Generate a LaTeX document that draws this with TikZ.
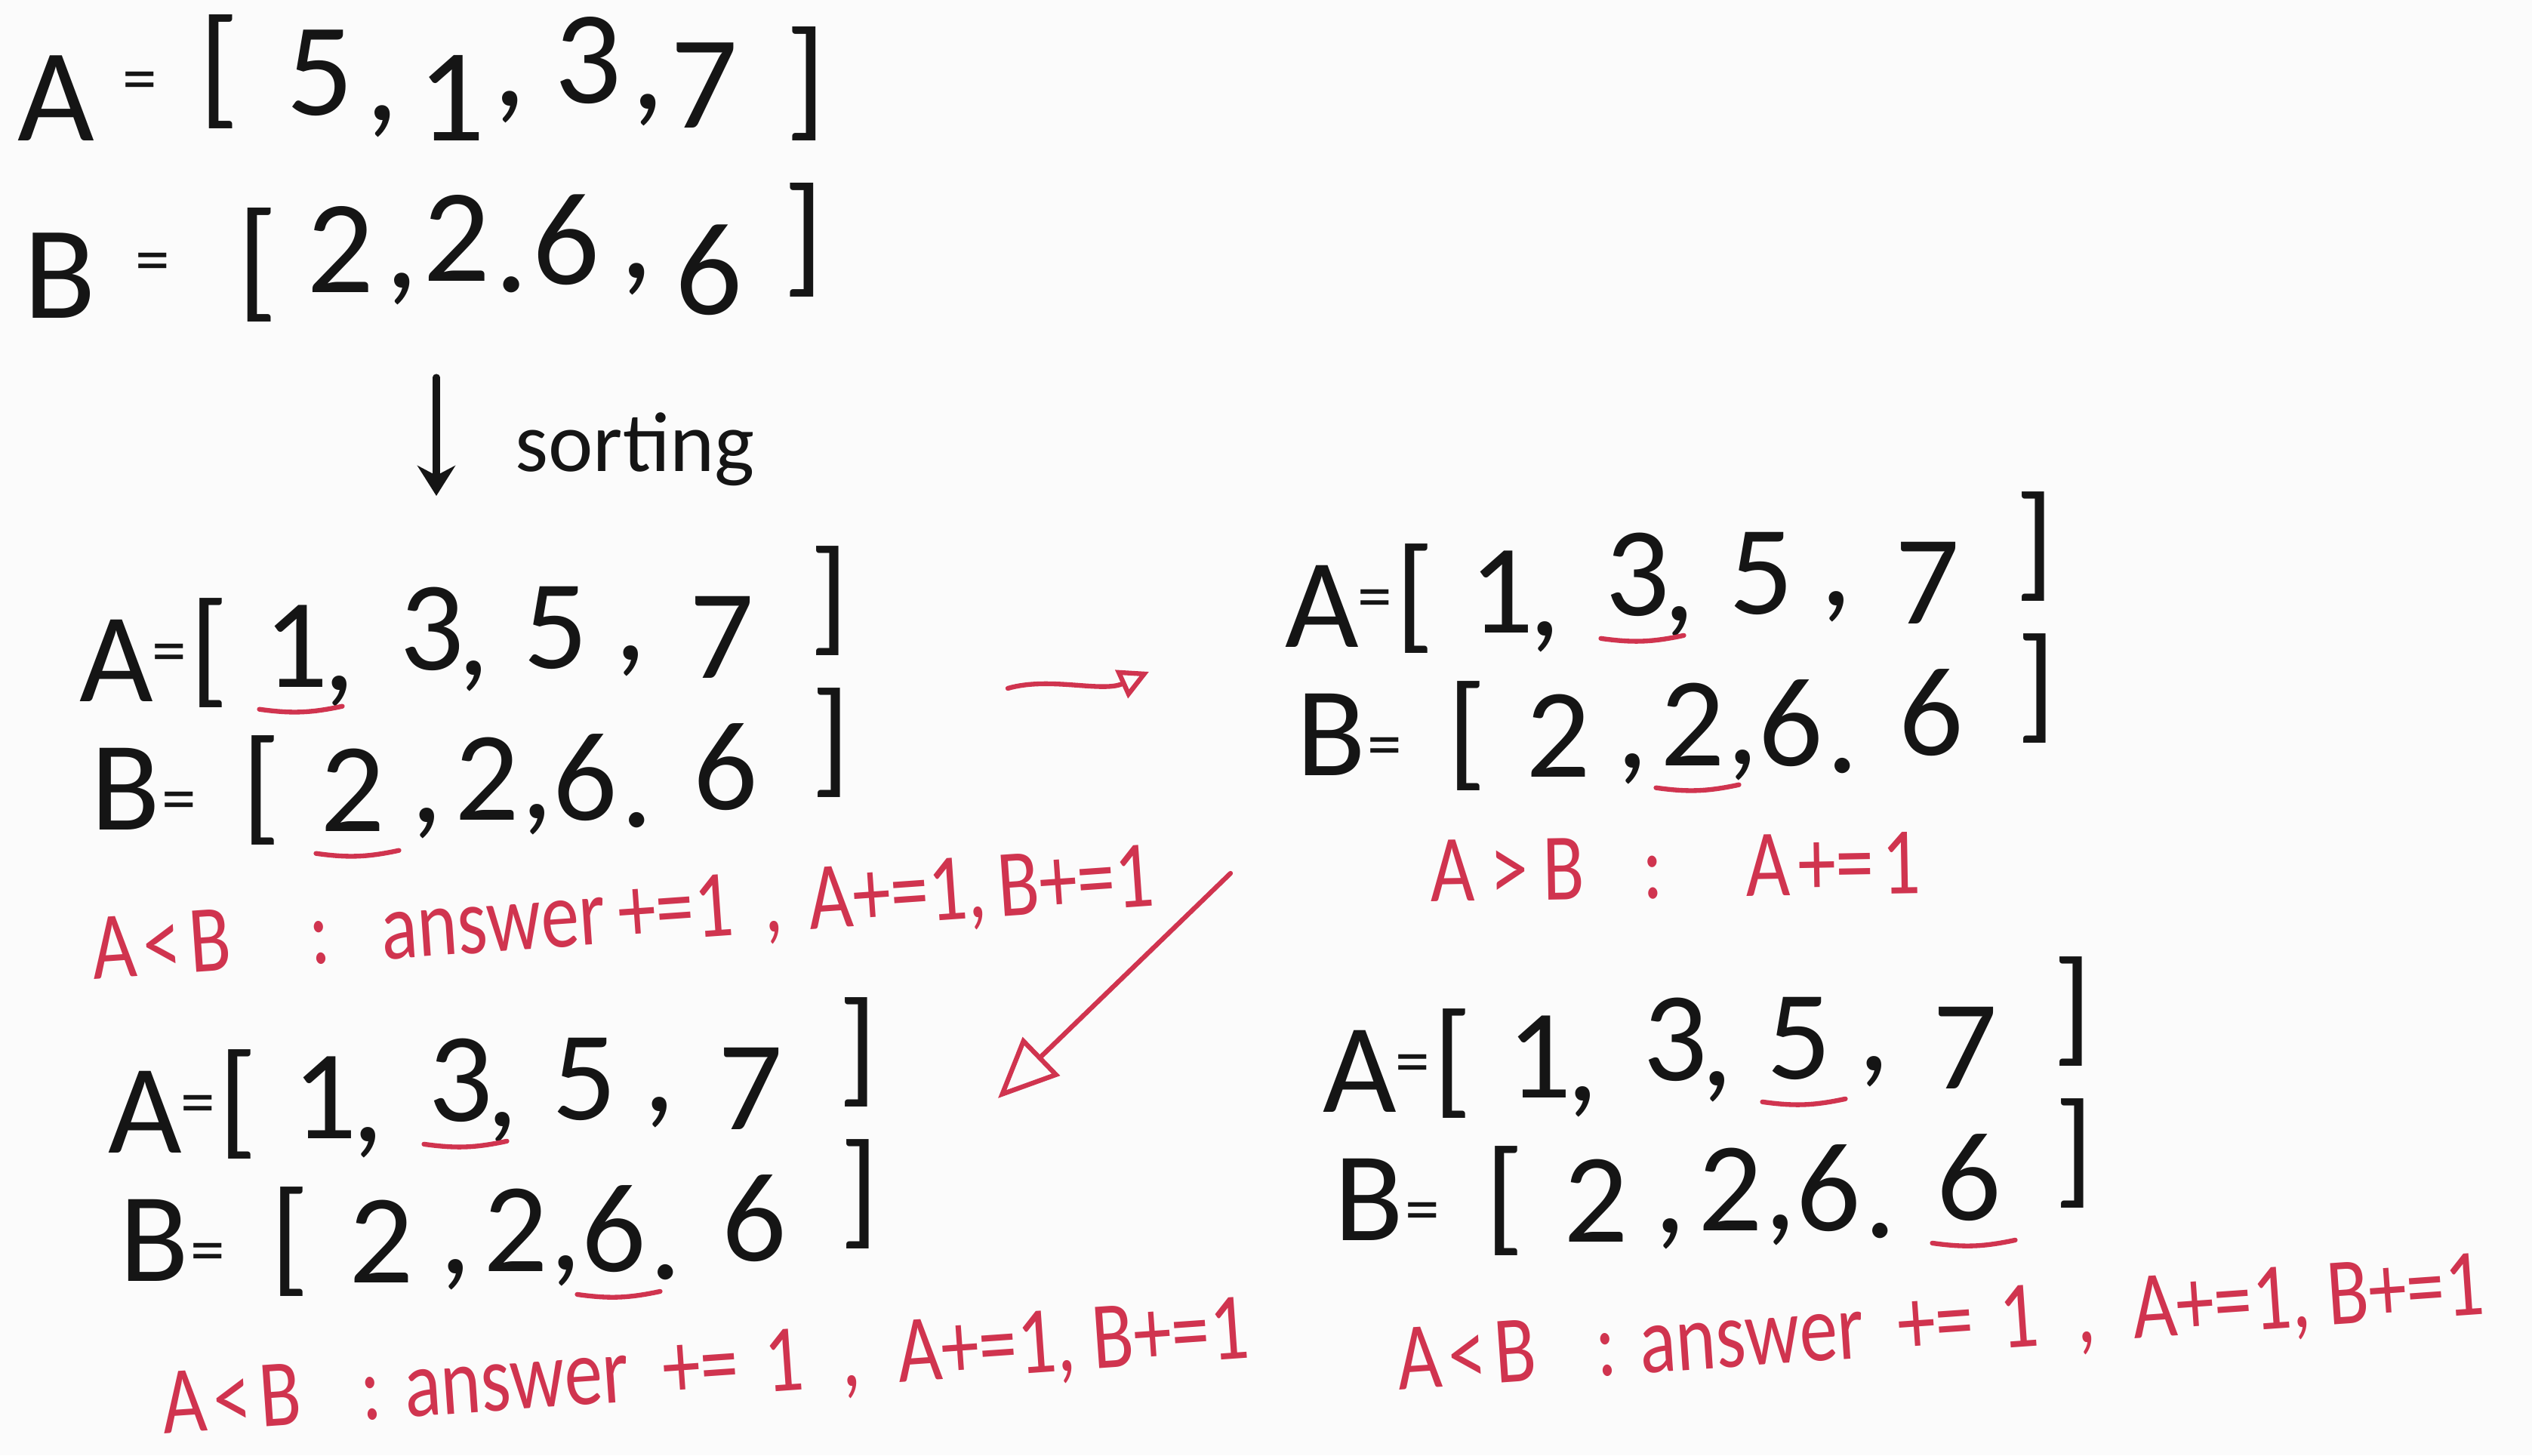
\documentclass[tikz,border=0pt]{standalone}
\usepackage{fontspec}
\setmainfont{Carlito}
\usetikzlibrary{arrows.meta, calc}

\definecolor{inkblack}{HTML}{151515}
\definecolor{inkred}{HTML}{D0344F}
\definecolor{paper}{HTML}{FBFBFB}

\newcommand{\eqs}{{\fontsize{26}{28}\selectfont =}}

\tikzset{
  ink/.style={text=inkblack, anchor=base, inner sep=0pt, font=\fontsize{48}{52}\selectfont},
  big/.style={ink, font=\fontsize{50}{54}\selectfont},
  note/.style={text=inkred, anchor=base west, inner sep=0pt, text height=0.8cm, text depth=0pt, font=\fontsize{36}{40}\selectfont},
  uline/.style={draw=inkred, line width=1.8pt, line cap=round},
  link/.style={draw=inkred, line width=1.8pt, line cap=round},
}

\begin{document}
\begin{tikzpicture}[>=Stealth]
  \useasboundingbox (0,0) rectangle (33.54,19.28);
  \fill[paper] (0,0) rectangle (33.54,19.28);

  % arrays before sorting
  \foreach \t/\x/\y [count=\i] in {A/0.74/17.41, \eqs/1.85/17.93, [/2.90/17.81, 5/4.24/17.75, {,}/5.06/17.68, 1/5.98/17.41, {,}/6.75/17.87, 3/7.79/17.91, {,}/8.58/17.83, 7/9.33/17.58, ]/10.67/17.65}
    \node[big] (top-a\i) at (\x,\y) {\t};
  \foreach \t/\x/\y [count=\i] in {B/0.79/15.06, \eqs/2.02/15.53, [/3.41/15.25, 2/4.51/15.40, {,}/5.32/15.46, 2/6.05/15.55, ./6.78/15.41, 6/7.50/15.51, {,}/8.43/15.59, 6/9.39/15.11, ]/10.64/15.58}
    \node[big] (top-b\i) at (\x,\y) {\t};

  \coordinate (sort-top) at (5.78,14.28);
  \coordinate (sort-bot) at (5.78,12.71);
  \draw[inkblack, line width=2.6pt, line cap=round, -{Stealth[length=4mm, width=5mm]}] (sort-top) -- (sort-bot);
  \node[ink, anchor=base west, font=\fontsize{32}{34}\selectfont] (sortlabel) at (6.82,13.03) {sorting};

  % the four steps
  \foreach \blk/\sx/\sy in {1/1.22/9.98, 2/17.19/10.70, 3/1.60/4.00, 4/17.69/4.54} {
    \begin{scope}[shift={(\sx,\sy)}]
      \foreach \t/\x/\y [count=\i] in {A/0.32/0, \eqs/1.02/0.37, [/1.55/0.15, 1/2.70/0.19, {,}/3.28/0.15, 3/4.50/0.42, {,}/5.06/0.35, 5/6.14/0.44, {,}/7.14/0.55, 7/8.34/0.31, ]/9.76/0.84}
        \node[ink] (b\blk-a\i) at (\x,\y) {\t};
      \foreach \t/\x/\y [count=\i] in {B/0.44/-1.70, \eqs/1.15/-1.59, [/2.24/-1.67, 2/3.45/-1.72, {,}/4.44/-1.60, 2/5.23/-1.57, {,}/5.90/-1.55, 6/6.53/-1.57, ./7.22/-1.66, 6/8.39/-1.43, ]/9.78/-1.04}
        \node[ink] (b\blk-b\i) at (\x,\y) {\t};
    \end{scope}
  }

  % pointers
  \foreach \blk/\row/\i in {1/a/4, 1/b/4, 2/a/6, 2/b/6, 3/a/6, 3/b/8, 4/a/8, 4/b/10}
    \draw[uline] ($(b\blk-\row\i.south west)+(-0.05,-0.28)$) to[bend right=10] ($(b\blk-\row\i.south east)+(0.18,-0.24)$);

  % comparisons
  \node[note, rotate=4, xscale=0.8] (note1) at (1.24,6.30) {A\kern1.25mm<\kern1.25mm B\hspace{1.31cm}:\hspace{0.85cm}answer\,+=1\hspace{0.5cm},\hspace{0.44cm}A+=1,\hspace{0.19cm}B+=1};
  \node[note, rotate=1, xscale=0.8] (note2) at (18.95,7.33) {A\kern2.5mm>\kern2.5mm B\hspace{0.96cm}:\hspace{1.38cm}A\kern1.25mm+=\kern1.25mm1};
  \node[note, rotate=4, xscale=0.8] (note3) at (2.17,0.28) {A\kern1.25mm<\kern1.25mm B\hspace{1.0cm}:\hspace{0.38cm}answer\hspace{0.56cm}+=\hspace{0.44cm}1\hspace{0.62cm},\hspace{0.62cm}A+=1,\ B+=1};
  \node[note, rotate=4, xscale=0.8] (note4) at (18.53,0.86) {A\kern1.25mm<\kern1.25mm B\hspace{1.0cm}:\hspace{0.38cm}answer\hspace{0.56cm}+=\hspace{0.44cm}1\hspace{0.62cm},\hspace{0.62cm}A+=1,\ B+=1};

  \coordinate (next-from) at (13.35,10.16);
  \coordinate (next-to) at (15.22,10.38);
  \draw[link, -{Triangle[open, length=4mm, width=4mm]}] (next-from) .. controls (13.9,10.32) and (14.6,10.1) .. (next-to);

  \coordinate (down-from) at (16.30,7.71);
  \coordinate (down-to) at (13.22,4.73);
  \draw[link, -{Triangle[open, length=8mm, width=7mm]}] (down-from) -- (down-to);
\end{tikzpicture}
\end{document}
